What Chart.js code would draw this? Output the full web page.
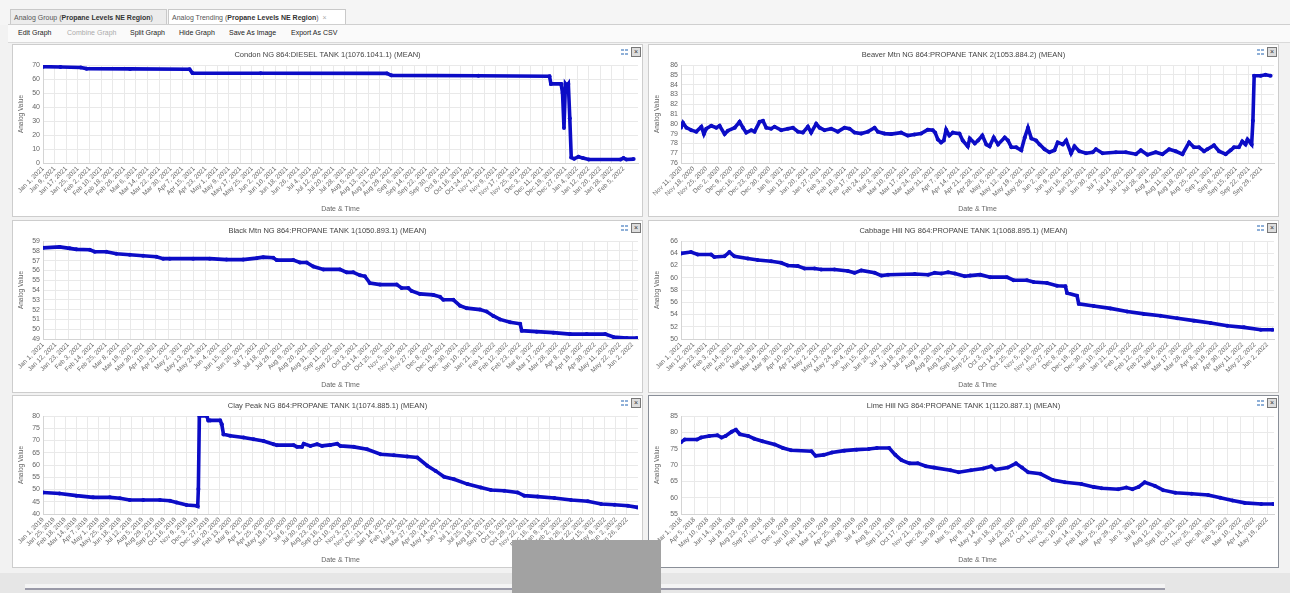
<!DOCTYPE html>
<html>
<head>
<meta charset="UTF-8">
<title>Analog Trending (Propane Levels NE Region)</title>
<script src="https://cdn.jsdelivr.net/npm/chart.js"></script>
<style>
  body { margin:0; width:1290px; height:593px; overflow:hidden; background:#f2f2f2;
         font-family:"Liberation Sans", Arial, sans-serif; position:relative; }
  .tabbar { position:absolute; left:0; top:0; width:1290px; height:25px; background:#f5f5f5; }
  .tab { position:absolute; top:9px; height:15px; line-height:15px; font-size:7px; color:#555;
         border:1px solid #c9c9c9; border-bottom:none; padding:0 3px; box-sizing:border-box; background:#ececec; white-space:nowrap; }
  .tab b { color:#333; }
  .tab.active { background:#fff; }
  .toolbar { position:absolute; left:8px; top:24px; width:1282px; height:17px; background:#fafafa;
             border-top:1px solid #cfcfcf; border-bottom:1px solid #dadada; }
  .toolbar span { position:absolute; top:4px; font-size:7px; color:#222; white-space:nowrap; }
  .panel { position:absolute; width:631px; height:173px; background:#fff; border:1px solid #cdcdcd; box-sizing:border-box; }
  .panel canvas { position:absolute; left:0; top:0; }
  .ic1 { position:absolute; top:4px; width:7px; height:6px;
         background:
           linear-gradient(#8fb0d8,#8fb0d8) 0 0/3px 2px no-repeat,
           linear-gradient(#8fb0d8,#8fb0d8) 4px 0/3px 2px no-repeat,
           linear-gradient(#8fb0d8,#8fb0d8) 0 4px/3px 2px no-repeat,
           linear-gradient(#8fb0d8,#8fb0d8) 4px 4px/3px 2px no-repeat; }
  .ic2 { position:absolute; top:2px; width:8px; height:8px; border:1px solid #777; background:#ddd;
         font-size:7px; line-height:8px; text-align:center; color:#333; }
  .bottom { position:absolute; left:0; top:573px; width:1290px; height:20px; background:#e6e6e6; }
  .scroll { position:absolute; left:25px; top:584px; width:1140px; height:4px; background:#f4f4f4; border-bottom:2px solid #9a9aa8; }
  .cover { position:absolute; left:512px; top:540px; width:149px; height:53px; background:#a2a2a2; }
</style>
</head>
<body>
<div class="tabbar">
  <div class="tab" style="left:10px;width:157px;">Analog Group (<b>Propane Levels NE Region</b>)</div>
  <div class="tab active" style="left:168px;width:178px;">Analog Trending (<b>Propane Levels NE Region</b>) &nbsp;<span style="color:#aaa">×</span></div>
</div>
<div class="toolbar">
  <span style="left:10px">Edit Graph</span>
  <span style="left:59px;color:#aaa">Combine Graph</span>
  <span style="left:122px">Split Graph</span>
  <span style="left:171px">Hide Graph</span>
  <span style="left:221px">Save As Image</span>
  <span style="left:283px">Export As CSV</span>
</div>

<div class="panel" style="left:12px;top:44px"><canvas id="c1" width="629" height="171"></canvas><div class="ic1" style="left:608px"></div><div class="ic2" style="left:618px">×</div></div>
<div class="panel" style="left:648px;top:44px"><canvas id="c2" width="629" height="171"></canvas><div class="ic1" style="left:608px"></div><div class="ic2" style="left:618px">×</div></div>
<div class="panel" style="left:12px;top:220px"><canvas id="c3" width="629" height="171"></canvas><div class="ic1" style="left:608px"></div><div class="ic2" style="left:618px">×</div></div>
<div class="panel" style="left:648px;top:220px"><canvas id="c4" width="629" height="171"></canvas><div class="ic1" style="left:608px"></div><div class="ic2" style="left:618px">×</div></div>
<div class="panel" style="left:12px;top:395px"><canvas id="c5" width="629" height="171"></canvas><div class="ic1" style="left:608px"></div><div class="ic2" style="left:618px">×</div></div>
<div class="panel" style="left:648px;top:395px;border-color:#8a8f98"><canvas id="c6" width="629" height="171"></canvas><div class="ic1" style="left:608px"></div><div class="ic2" style="left:618px">×</div></div>

<div class="bottom"></div>
<div class="scroll"></div>
<div class="cover"></div>

<script>
// x values are days since the first tick date
const condonDays = [0, 12, 26, 30, 60, 101, 103, 150, 237, 240, 300, 349, 350, 357, 358, 359, 360, 361, 362, 363, 364, 366, 369, 372, 376, 398, 400, 402, 407];
const condonValues = [68.8, 68.6, 68.2, 67.4, 67.2, 67, 64.2, 64.1, 64, 62.6, 62.3, 62, 56.5, 56.5, 50, 25, 56.5, 55, 56.5, 32, 4, 3, 4.5, 3.5, 2.5, 2.5, 3.5, 2.5, 2.8];

const beaverDays = [0,1.1,3,5.7,8.5,11.3,12.7,14,16.8,19.6,21.4,24.2,26,29.8,32.5,34.4,36.2,39,40.8,43.6,
  45.5,47.3,50,51.9,55.6,59.3,62.1,64.9,67.6,70.4,72.2,75,76.9,79.6,83.3,87,90.7,93.5,96.3,100,
  103.7,107.4,109.2,112.9,116.6,122.1,125.8,129.5,133.2,136.9,139.7,141,142.5,144.3,145.8,147.1,148.9,150.8,154.5,156.3,
  159.1,160.2,163,164.8,167.2,169.4,171.2,173.5,175.9,179.6,181.4,183.3,186,188.8,190.7,192.5,194.4,197,198.9,201.7,
  204.4,207.2,209,211.8,213.7,216.4,218.3,221,224.7,228.4,230.2,233.9,241.3,246.8,252.4,255.1,258.8,263.4,267.1,270.8,
  274.5,278.2,281.9,284.6,287.4,290.2,292,295.7,298.5,302.2,304.9,306.8,309.5,311.4,313.2,314.3,316.6,317.3,318,321.6,
  324.3,327.1];
const beaverValues = [79.6,80.1,79.6,79.35,79.2,79.7,78.95,79.5,79.8,79.6,79.8,78.95,79.3,79.6,80.2,79.6,79.1,79.35,79.2,80.2,
  80.3,79.6,79.5,79.7,79.35,79.5,79.6,79.2,79.1,79.7,79.1,80.0,79.6,79.35,79.5,79.2,79.6,79.5,79.1,79.0,
  79.2,79.6,79.2,79.0,78.95,79.1,78.8,78.9,79.0,79.4,79.35,79.1,78.4,78.1,78.3,79.4,78.8,79.1,79.0,78.3,
  77.7,78.5,78.0,78.3,78.8,77.9,77.7,78.6,77.9,78.6,78.3,77.6,77.6,77.3,78.6,79.6,78.5,78.3,77.9,77.4,
  77.1,77.3,78.1,77.9,78.3,77.0,77.7,77.2,77.0,77.1,77.4,77.0,77.1,77.1,76.9,77.3,76.85,77.1,76.9,77.4,
  77.2,76.9,78.1,77.6,77.6,77.2,77.4,77.8,77.2,76.9,77.3,77.6,77.6,78.2,77.9,78.4,77.9,80.3,84.9,84.9,
  85.0,84.9];

const blackDays = [0,14.6,23.4,29.3,41,45.4,55.6,64.4,76.1,87.8,99.5,105.4,111.2,131.7,146.3,161,175.6,187.3,193.2,202,
  205,219.6,225.4,231.3,237.2,246,260.5,266.4,272.2,278.1,282.4,286.8,295.7,310.3,314.6,320.5,323.4,330.7,342.4,348.3,
  351.2,360,365.8,371.7,383.4,389.2,395.1,401,409.8,418.6,420,433.1,447.8,462.4,477,493.2,500.5,512.2,521];
const blackValues = [58.3,58.4,58.25,58.15,58.1,57.9,57.9,57.7,57.6,57.5,57.4,57.2,57.2,57.2,57.2,57.1,57.1,57.25,57.35,57.3,
  57.05,57.05,56.8,56.8,56.4,56.1,56.1,55.8,55.8,55.5,55.4,54.7,54.55,54.55,54.2,54.2,53.9,53.6,53.5,53.3,
  53.0,53.0,52.4,52.15,52.0,51.8,51.35,51.0,50.7,50.55,49.85,49.75,49.65,49.5,49.5,49.5,49.2,49.1,49.1];

const cabbageDays = [0,8.8,14.7,26.5,29.4,38.3,42.7,47.1,58.9,67.7,79.5,88.3,94.2,103,108.9,117.8,123.6,135.4,147.2,153.1,
  159,170.8,176.7,182.6,206.2,218,223.8,229.7,235.6,241.5,250.3,255,263.9,272.7,287.4,293.3,305.1,311,322.8,331.6,
  339,340.5,349.3,350.8,364,378.7,393.5,408.2,422.9,437.6,452.4,467.1,481.8,496.5,511.3,521.6];
const cabbageValues = [63.97,64.2,63.8,63.8,63.4,63.5,64.2,63.5,63.15,62.9,62.7,62.45,62.0,61.9,61.5,61.5,61.35,61.35,61.1,60.8,
  61.2,60.8,60.35,60.5,60.6,60.5,60.8,60.7,60.9,60.7,60.25,60.35,60.5,60.1,60.1,59.6,59.6,59.3,59.15,58.7,
  58.6,57.5,57.05,55.75,55.4,55.0,54.5,54.1,53.8,53.4,53.0,52.6,52.15,51.9,51.5,51.5];

const clayDays = [0,36,72.8,109,145.6,167.5,189,218.3,254.7,276.6,291,312.9,334.7,337,338.4,340.6,356.7,360,364,385.8,
  389.4,393.1,407.7,436.8,458.6,480.4,502.3,509.6,546,553.3,564.2,567.9,582.4,597,607.9,626,640.6,647.9,677,706,
  735.2,764.3,793.4,815.3,837.1,855.3,873.5,895.4,924.5,953.6,975.5,1004.6,1033.7,1048.3,1077.4,1113.8,1150.2,1186.6,1215.7,1244.8,
  1274,1295];
const clayValues = [48.8,48.4,47.5,46.8,46.8,46.4,45.7,45.7,45.7,45.4,44.7,43.7,43.4,43.2,50.2,80,80,78.2,78.2,78.2,
  76.6,72.5,71.9,71.2,70.5,69.8,68.5,68.1,68.1,67.4,67.4,68.7,67.8,68.5,67.8,68.2,68.7,67.8,67.4,66.4,
  64.4,64.0,63.5,63.05,59.7,57.6,55.2,54.2,52.2,50.8,49.8,49.5,48.8,47.5,47.1,46.5,45.7,45.2,44.1,43.8,
  43.4,42.7];

const limeDays = [0,9.8,42,52.8,74.3,95.7,106.5,117.2,133.4,144.2,154.9,176.4,192.5,214,246.2,267.7,289.2,342.9,353.6,375.1,
  396.6,428.8,461,493.2,514.7,547,563.1,579.2,600.6,622.1,643.6,665.1,708,729.5,761.8,794,815.5,826.2,858.5,880,
  896,912.2,944.4,976.6,1008.9,1051.8,1084,1105.5,1148.5,1170,1186.1,1202.2,1218.3,1245.2,1266.7,1298.9,1341.8,1384.8,1417,1449.2,
  1481.4,1524.4,1556];
const limeValues = [77.0,77.8,77.8,78.4,78.9,79.1,78.4,78.9,80.2,80.8,79.4,78.9,78.05,77.3,76.3,75.2,74.5,74.2,72.8,73.1,
  73.8,74.4,74.7,74.9,75.2,75.2,73.1,71.5,70.5,70.5,69.6,69.2,68.4,67.8,68.4,68.9,69.6,68.6,69.2,70.5,
  69.2,67.8,67.3,65.4,64.7,64.2,63.3,62.9,62.6,63.1,62.6,63.3,64.7,63.6,62.3,61.5,61.2,60.8,59.95,59.1,
  58.4,58.05,58.05];

// date ticks: first date, spacing in days, number of ticks
const MONTHS = ['Jan','Feb','Mar','Apr','May','Jun','Jul','Aug','Sep','Oct','Nov','Dec'];
function dateTicks(y, m, d, step, count) {
  const out = [];
  for (let i = 0; i < count; i++) {
    const t = new Date(Date.UTC(y, m - 1, d + i * step));
    out.push(MONTHS[t.getUTCMonth()] + ' ' + t.getUTCDate() + ', ' + t.getUTCFullYear());
  }
  return out;
}
const condonTicks = dateTicks(2021, 1, 1, 8, 51);
const beaverTicks = dateTicks(2020, 11, 11, 7, 47);
const blackTicks = dateTicks(2021, 1, 1, 11, 48);
const cabbageTicks = dateTicks(2021, 1, 1, 11, 48);
const clayTicks = dateTicks(2019, 1, 1, 24, 54);
const limeTicks = dateTicks(2018, 3, 1, 35, 45);

const FONT = '"Liberation Sans", Arial, sans-serif';
const BLUE = '#0c0cc6';

function makeChart(id, title, days, values, ticks, step, xMax, yMin, yMax, yStep, yWidth) {
    new Chart(id, {
        type: 'line',
        data: {
            datasets: [{
                data: days.map((d, i) => ({x: d, y: values[i]})),
                borderColor: BLUE,
                backgroundColor: BLUE,
                borderWidth: 3.6,
                pointRadius: 2,
                pointBorderWidth: 0,
                tension: 0
            }]
        },
        options: {
            responsive: false,
            animation: false,
            events: [],
            layout: { padding: { left: 4, right: 4, top: 0, bottom: 3 } },
            plugins: {
                legend: { display: false },
                tooltip: { enabled: false },
                title: { display: true, text: title, color: '#444', font: { size: 7.5, family: FONT, weight: 'normal' }, padding: { top: 5, bottom: 6 } }
            },
            scales: {
                x: {
                    type: 'linear', min: 0, max: xMax,
                    afterBuildTicks: s => { s.ticks = ticks.map((t, i) => ({ value: i * step })); },
                    afterFit: s => { s.height = 50; s.paddingLeft = 0; s.paddingRight = 0; },
                    ticks: { autoSkip: false, minRotation: 45, maxRotation: 45, padding: 2, color: '#666',
                             font: { size: 6.5, family: FONT }, callback: (v, i) => ticks[i] },
                    grid: { color: '#e9e9e9', drawTicks: false },
                    border: { color: '#d4d4d4' },
                    title: { display: true, text: 'Date & Time', color: '#666', font: { size: 7, family: FONT }, padding: 0 }
                },
                y: {
                    min: yMin, max: yMax,
                    afterFit: s => { s.width = yWidth; },
                    ticks: { stepSize: yStep, autoSkip: false, padding: 3, color: '#666', font: { size: 7, family: FONT } },
                    grid: { color: '#e9e9e9', drawTicks: false },
                    border: { color: '#d4d4d4' },
                    title: { display: true, text: 'Analog Value', color: '#666', font: { size: 6.5, family: FONT }, padding: 0 }
                }
            }
        }
    });
}

makeChart('c1', 'Condon NG 864:DIESEL TANK 1(1076.1041.1) (MEAN)', condonDays, condonValues, condonTicks, 8, 410, 0, 70, 10, 26);
makeChart('c2', 'Beaver Mtn NG 864:PROPANE TANK 2(1053.884.2) (MEAN)', beaverDays, beaverValues, beaverTicks, 7, 329, 76, 86, 1, 28);
makeChart('c3', 'Black Mtn NG 864:PROPANE TANK 1(1050.893.1) (MEAN)', blackDays, blackValues, blackTicks, 11, 522, 49, 59, 1, 26);
makeChart('c4', 'Cabbage Hill NG 864:PROPANE TANK 1(1068.895.1) (MEAN)', cabbageDays, cabbageValues, cabbageTicks, 11, 523, 50, 66, 2, 28);
makeChart('c5', 'Clay Peak NG 864:PROPANE TANK 1(1074.885.1) (MEAN)', clayDays, clayValues, clayTicks, 24, 1296, 40, 80, 5, 26);
makeChart('c6', 'Lime Hill NG 864:PROPANE TANK 1(1120.887.1) (MEAN)', limeDays, limeValues, limeTicks, 35, 1558, 55, 85, 5, 28);
</script>
</body>
</html>
